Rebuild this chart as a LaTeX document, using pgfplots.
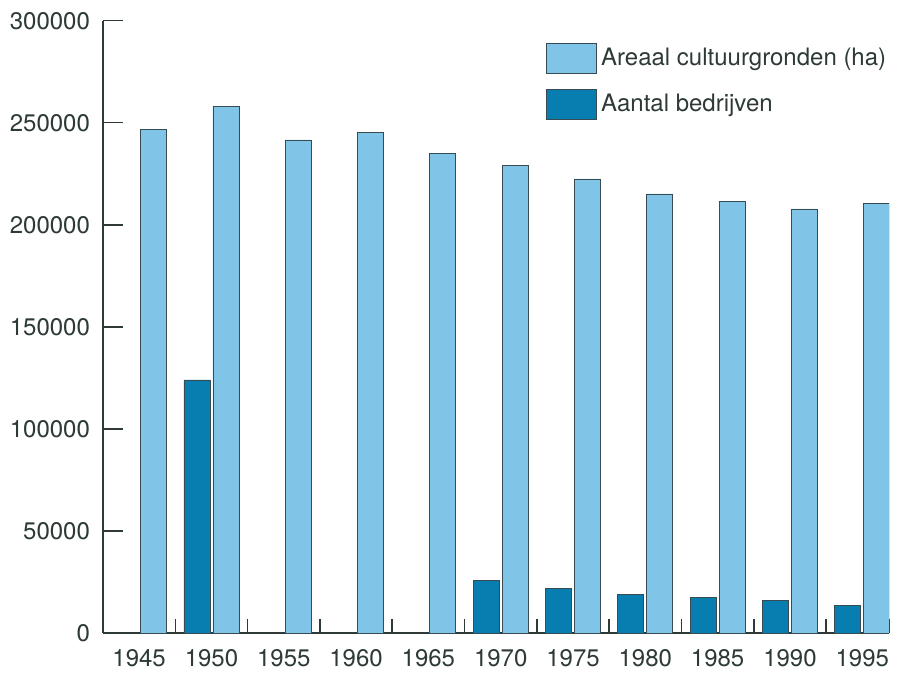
\documentclass[border=0pt]{standalone}
\usepackage{fontspec}
\setmainfont{TeX Gyre Heros}
\usepackage{pgfplots}
\pgfplotsset{compat=1.18}
\definecolor{lightbar}{RGB}{128,196,232}
\definecolor{darkbar}{RGB}{8,125,176}
\definecolor{txt}{RGB}{45,58,55}
\definecolor{edge}{RGB}{55,75,80}
\begin{document}
\begin{tikzpicture}[x=1pt,y=1pt]
\useasboundingbox (-51.5,-20.5) rectangle (402.5,316.5);
\begin{axis}[
  at={(0,0)}, anchor=south west,
  scale only axis, width=393pt, height=306.15pt,
  xmin=-0.5, xmax=10.37, ymin=0, ymax=300000,
  axis lines*=left,
  axis line style={draw=txt, line width=0.75pt},
  ybar, bar width=0.36,
  tick align=inside,
  xtick={0,...,10},
  xticklabels={1945,1950,1955,1960,1965,1970,1975,1980,1985,1990,1995},
  xtick style={/pgfplots/major tick length=0pt},
  minor xtick={0.5,1.5,2.5,3.5,4.5,5.5,6.5,7.5,8.5,9.5,10.37},
  minor tick length=7pt,
  ytick={0,50000,100000,150000,200000,250000,300000},
  major tick length=10pt,
  tick style={draw=txt, line width=0.75pt},
  scaled y ticks=false,
  /pgf/number format/assume math mode=true,
  yticklabel style={/pgf/number format/fixed, /pgf/number format/1000 sep={}},
  tick label style={font=\fontsize{12}{14}\selectfont, text=txt},
  yticklabel style={xshift=-3pt},
  xticklabel style={yshift=-4.5pt},
  legend style={at={(0.5636,0.965)}, anchor=north west, draw=none, fill=none,
    inner sep=0pt, row sep=8pt, font=\fontsize{12}{14}\selectfont, text=txt,
    nodes={inner sep=2pt}},
  legend cell align=left,
  legend image code/.code={\draw[#1, draw=edge, line width=0.4pt] (0pt,-7.5pt) rectangle (25pt,7.5pt);},
]
\addplot[fill=lightbar, draw=edge, line width=0.4pt, bar shift=0.2] coordinates {
 (0,246800) (1,258200) (2,241550) (3,245300) (4,234850) (5,228980)
 (6,222460) (7,215100) (8,211340) (9,207760) (10,210550)};
\addlegendentry{Areaal cultuurgronden (ha)}
\addplot[fill=darkbar, draw=edge, line width=0.4pt, bar shift=-0.2] coordinates {
 (1,123970) (5,25630) (6,21710) (7,19110) (8,17300) (9,15830) (10,13720)};
\addlegendentry{Aantal bedrijven}
\end{axis}
\end{tikzpicture}
\end{document}
